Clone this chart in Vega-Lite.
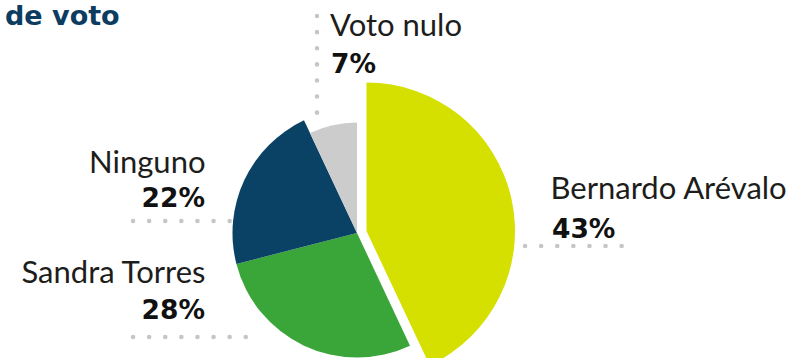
{
  "$schema": "https://vega.github.io/schema/vega-lite/v6.json",
  "width": 714,
  "height": 250,
  "autosize": {"type": "none"},
  "padding": {"left": 0, "top": 108, "right": 94, "bottom": 0},
  "background": "white",
  "config": {"view": {"stroke": null}},
  "title": {
    "text": "de voto",
    "anchor": "start",
    "frame": "group",
    "orient": "top",
    "baseline": "alphabetic",
    "offset": -41,
    "dx": 5,
    "font": "DejaVu Sans",
    "fontSize": 27,
    "fontWeight": "bold",
    "color": "#0c3c5f"
  },
  "data": {
    "values": [
      {"name": "Bernardo Arévalo", "share": 0.43},
      {"name": "Sandra Torres", "share": 0.28},
      {"name": "Ninguno", "share": 0.22},
      {"name": "Voto nulo", "share": 0.07}
    ]
  },
  "layer": [
    {
      "mark": {
        "type": "rule",
        "color": "#c6c6c6",
        "strokeWidth": 4.5,
        "strokeCap": "round",
        "strokeDash": [0.1, 16]
      },
      "encoding": {
        "x": {"value": {"expr": "datum.name === 'Voto nulo' ? 317 : (datum.name === 'Sandra Torres' || datum.name === 'Ninguno') ? 133 : 525"}},
        "x2": {"value": {"expr": "datum.name === 'Voto nulo' ? 317 : datum.name === 'Sandra Torres' ? 249 : datum.name === 'Ninguno' ? 233 : 626"}},
        "y": {"value": {"expr": "datum.name === 'Voto nulo' ? -92 : datum.name === 'Sandra Torres' ? 229 : datum.name === 'Ninguno' ? 113 : 138"}},
        "y2": {"value": {"expr": "datum.name === 'Voto nulo' ? 20 : datum.name === 'Sandra Torres' ? 229 : datum.name === 'Ninguno' ? 113 : 138"}}
      }
    },
    {
      "mark": {
        "type": "arc",
        "outerRadius": {"expr": "datum.name === 'Voto nulo' ? 110.5 : (datum.name === 'Sandra Torres' || datum.name === 'Ninguno') ? 124.5 : 148.5"},
        "xOffset": {"expr": "(datum.name === 'Voto nulo' || datum.name === 'Sandra Torres' || datum.name === 'Ninguno') ? 0 : 9.5"},
        "yOffset": {"expr": "(datum.name === 'Voto nulo' || datum.name === 'Sandra Torres' || datum.name === 'Ninguno') ? 0 : -2"}
      },
      "encoding": {
        "theta": {"field": "share", "type": "quantitative", "stack": true},
        "order": {"field": "share", "type": "quantitative", "sort": "descending"},
        "color": {
          "field": "name",
          "type": "nominal",
          "scale": {
            "domain": ["Bernardo Arévalo", "Sandra Torres", "Ninguno", "Voto nulo"],
            "range": ["#d5df00", "#3aa538", "#0a4266", "#cccccc"]
          },
          "legend": null
        }
      }
    },
    {
      "mark": {
        "type": "text",
        "radius": 180,
        "font": "Lato",
        "fontSize": 31,
        "color": "#1d1d1b",
        "baseline": "alphabetic",
        "align": {"expr": "(datum.name === 'Sandra Torres' || datum.name === 'Ninguno') ? 'right' : 'left'"},
        "dx": {"expr": "datum.name === 'Sandra Torres' ? -74.9 : datum.name === 'Ninguno' ? 11.4 : datum.name === 'Voto nulo' ? 12.3 : 17.8"},
        "dy": {"expr": "datum.name === 'Sandra Torres' ? -112.9 : datum.name === 'Ninguno' ? 16.6 : datum.name === 'Voto nulo' ? -21.3 : 5.3"}
      },
      "encoding": {
        "theta": {"field": "share", "type": "quantitative", "stack": true},
        "order": {"field": "share", "type": "quantitative", "sort": "descending"},
        "detail": {"field": "name", "type": "nominal"},
        "text": {"field": "name", "type": "nominal"}
      }
    },
    {
      "mark": {
        "type": "text",
        "radius": 180,
        "font": "DejaVu Sans",
        "fontSize": 26.5,
        "fontWeight": "bold",
        "color": "#111111",
        "baseline": "alphabetic",
        "align": {"expr": "(datum.name === 'Sandra Torres' || datum.name === 'Ninguno') ? 'right' : 'left'"},
        "dx": {"expr": "datum.name === 'Sandra Torres' ? -75.4 : datum.name === 'Ninguno' ? 10.9 : datum.name === 'Voto nulo' ? 13.3 : 19.3"},
        "dy": {"expr": "datum.name === 'Sandra Torres' ? -76.9 : datum.name === 'Ninguno' ? 50.6 : datum.name === 'Voto nulo' ? 15.7 : 43.8"}
      },
      "encoding": {
        "theta": {"field": "share", "type": "quantitative", "stack": true},
        "order": {"field": "share", "type": "quantitative", "sort": "descending"},
        "detail": {"field": "name", "type": "nominal"},
        "text": {"field": "share", "type": "quantitative", "format": ".0%"}
      }
    }
  ]
}
